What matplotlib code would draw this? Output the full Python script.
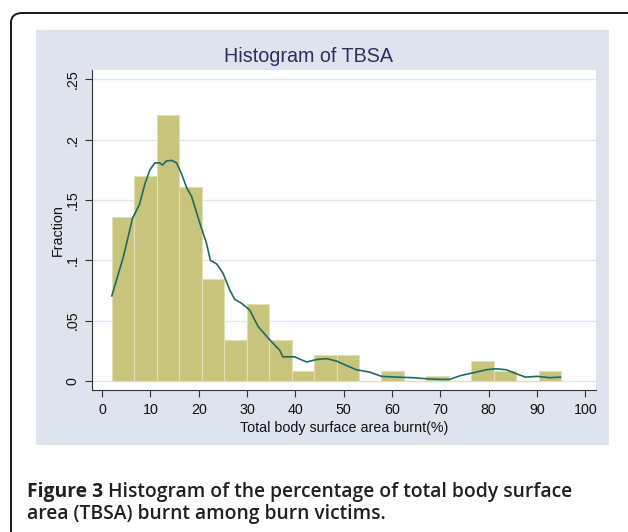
import matplotlib
matplotlib.use("Agg")
import matplotlib.pyplot as plt
from matplotlib.patches import Rectangle, FancyBboxPatch
import numpy as np

# ---- data ----
bin_edges = [2.0, 6.65, 11.3, 15.95, 20.6, 25.25, 29.9, 34.55, 39.2, 43.85, 48.5,
             53.15, 57.8, 62.45, 67.1, 71.75, 76.4, 81.05, 85.7, 90.35, 95.0]
fractions = [0.1356, 0.1695, 0.2203, 0.1610, 0.0847, 0.0339, 0.0636, 0.0339, 0.0085, 0.0212,
             0.0212, 0.0, 0.0085, 0.0, 0.0042, 0.0, 0.0169, 0.0085, 0.0, 0.0085]

kde_x = [2.0, 4.4, 6.3, 7.7, 8.9, 9.9, 10.9, 11.9, 12.5, 13.3, 14.4, 15.4, 16.4, 17.5, 18.5,
         20.2, 21.6, 22.4, 23.7, 25.0, 26.4, 27.4, 28.8, 30.5, 32.3, 34.7, 36.75, 37.4, 39.8,
         42.3, 44.3, 46.4, 48.5, 50.5, 52.6, 55.4, 57.8, 60.9, 64.3, 67.1, 69.8, 71.9, 74.3,
         77.4, 79.5, 81.5, 83.6, 85.7, 87.6, 90.1, 92.6, 94.8]
kde_y = [0.0705, 0.103, 0.135, 0.146, 0.164, 0.175, 0.1807, 0.1807, 0.179, 0.1823, 0.1828,
         0.1807, 0.172, 0.160, 0.153, 0.131, 0.114, 0.0999, 0.097, 0.0894, 0.0755, 0.0678,
         0.0645, 0.0589, 0.045, 0.034, 0.0254, 0.020, 0.020, 0.0157, 0.0177, 0.0185, 0.0165,
         0.0129, 0.0093, 0.0073, 0.0038, 0.0032, 0.0027, 0.0018, 0.0013, 0.0013, 0.0046,
         0.0073, 0.0093, 0.0101, 0.0093, 0.006, 0.0032, 0.0038, 0.0027, 0.0032]

x_ticks = [0, 10, 20, 30, 40, 50, 60, 70, 80, 90, 100]
y_ticks = [0, 0.05, 0.1, 0.15, 0.2, 0.25]
y_tick_labels = ["0", ".05", ".1", ".15", ".2", ".25"]

title = "Histogram of TBSA"
xlabel = "Total body surface area burnt(%)"
ylabel = "Fraction"
caption_bold = "Figure 3"
caption_rest1 = " Histogram of the percentage of total body surface"
caption_line2 = "area (TBSA) burnt among burn victims."

# ---- figure ----
W, H = 628, 532
fig = plt.figure(figsize=(W / 100, H / 100), dpi=100)
fig.patch.set_facecolor("white")

def px(x0, y0, x1, y1):
    return [x0 / W, 1 - y1 / H, (x1 - x0) / W, (y1 - y0) / H]

# outer rounded frame
frame = FancyBboxPatch((11 / W, -0.2), (W + 40) / W, (H - 13) / H + 0.2,
                       boxstyle="round,pad=0,rounding_size=0.018",
                       transform=fig.transFigure, fill=False,
                       edgecolor="#1a1a1a", linewidth=1.4, zorder=-2)
fig.patches.append(frame)

# panel background
p = px(35.7, 30, 609, 445.3)
fig.patches.append(Rectangle((p[0], p[1]), p[2], p[3], transform=fig.transFigure,
                             facecolor="#dfe3ee", edgecolor="none", zorder=-1))

font = "Liberation Sans"
fs = 10.3
ax = fig.add_axes(px(92, 70, 596, 390))
ax.set_zorder(2)
ax.set_facecolor("white")

widths = np.diff(bin_edges)
ax.bar(bin_edges[:-1], fractions, width=widths, align="edge",
       color="#c9c47b", edgecolor="#e2dfb6", linewidth=0.8, zorder=2)
ax.plot(kde_x, kde_y, color="#1f6b61", linewidth=1.2, zorder=3)

ax.set_xlim(-2.1, 102.2)
ax.set_ylim(-0.0075, 0.2577)
ax.set_xticks(x_ticks)
ax.set_xticklabels([str(t) for t in x_ticks], fontfamily=font, fontsize=fs)
ax.set_yticks(y_ticks)
ax.set_yticklabels(y_tick_labels, fontfamily=font, fontsize=fs, rotation=90, va="center")
ax.yaxis.grid(True, color="#e2e6f1", linewidth=1.0, zorder=1)
ax.set_axisbelow(True)
for s in ["top", "right"]:
    ax.spines[s].set_visible(False)
for s in ["left", "bottom"]:
    ax.spines[s].set_color("#333333")
    ax.spines[s].set_linewidth(0.8)
ax.tick_params(axis="both", direction="out", length=5, width=0.8, color="#333333",
               labelcolor="#111111", pad=4)

ax.set_xlabel(xlabel, fontfamily=font, fontsize=fs, color="#111111", labelpad=3)
ax.set_ylabel(ylabel, fontfamily=font, fontsize=fs, color="#111111", labelpad=0.5)

fig.text(308 / W, 1 - 57 / H, title, ha="center", va="center", fontfamily=font,
         fontsize=14.2, color="#27315c")

# caption
cap_font = "Open Sans"
cap_size = 13.9
t1 = fig.text(26.7 / W, 1 - 492 / H, caption_bold, ha="left", va="center",
              fontfamily=cap_font, fontsize=cap_size, fontweight="bold", color="#231f20")
fig.canvas.draw()
bb = t1.get_window_extent()
fig.text(bb.x1 / W, 1 - 492 / H, caption_rest1, ha="left", va="center",
         fontfamily=cap_font, fontsize=cap_size, fontweight="semibold", color="#231f20")
fig.text(26.7 / W, 1 - 514 / H, caption_line2, ha="left", va="center",
         fontfamily=cap_font, fontsize=cap_size, fontweight="semibold", color="#231f20")

fig.savefig("out.png", dpi=100)
